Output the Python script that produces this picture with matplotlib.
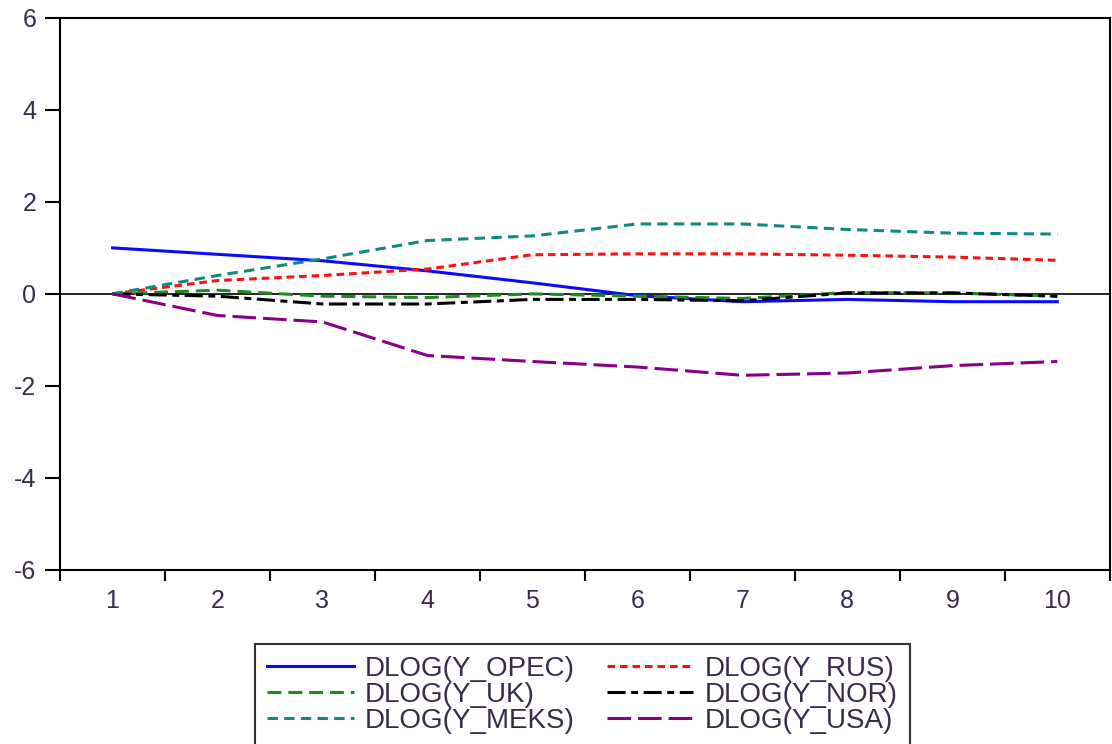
import matplotlib
matplotlib.use("Agg")
import matplotlib.pyplot as plt

plt.rcParams['font.family'] = ['Liberation Sans', 'DejaVu Sans']
plt.rcParams['lines.scale_dashes'] = False

periods = [1, 2, 3, 4, 5, 6, 7, 8, 9, 10]
y_opec = [1.00, 0.86, 0.72, 0.50, 0.24, -0.04, -0.17, -0.12, -0.17, -0.17]
y_rus = [0.00, 0.29, 0.40, 0.54, 0.85, 0.87, 0.87, 0.84, 0.80, 0.73]
y_uk = [0.00, 0.08, -0.05, -0.08, 0.00, -0.05, -0.10, 0.03, 0.02, -0.05]
y_nor = [0.00, -0.05, -0.22, -0.22, -0.12, -0.12, -0.15, 0.02, 0.02, -0.05]
y_meks = [0.00, 0.40, 0.76, 1.16, 1.26, 1.52, 1.52, 1.40, 1.32, 1.30]
y_usa = [0.00, -0.47, -0.61, -1.34, -1.47, -1.59, -1.77, -1.72, -1.56, -1.47]
labels = ['DLOG(Y_OPEC)', 'DLOG(Y_RUS)', 'DLOG(Y_UK)',
          'DLOG(Y_NOR)', 'DLOG(Y_MEKS)', 'DLOG(Y_USA)']
yticks = [-6, -4, -2, 0, 2, 4, 6]

fig = plt.figure(figsize=(11.12, 7.44), dpi=100)
ax = fig.add_axes([0.054, 0.234, 0.944, 0.742])

tick_color = '#3a2c48'
lw = 2.2
ax.axhline(0, color='black', lw=1.2, zorder=1)
series = [
    (y_opec, '#0a0aff', None),
    (y_rus, '#ff1010', (0, (5.5, 3.5))),
    (y_uk, '#1f8a1f', (0, (10, 5))),
    (y_nor, '#000000', (0, (13, 4, 5, 4))),
    (y_meks, '#108a80', (0, (7.5, 4.5))),
    (y_usa, '#880088', (0, (17, 5))),
]
handles = []
for (vals, col, ls), lab in zip(series, labels):
    if ls is None:
        h, = ax.plot(periods, vals, color=col, lw=lw, label=lab, zorder=2)
    else:
        h, = ax.plot(periods, vals, color=col, lw=lw, linestyle=ls, label=lab, zorder=2)
    handles.append(h)

ax.set_xlim(0.5, 10.5)
ax.set_ylim(-6, 6)
ax.set_yticks(yticks)
ax.set_yticklabels([str(v) for v in yticks])
ax.set_xticks(periods)
ax.set_xticklabels([str(p) for p in periods])
ax.set_xticks([p - 0.5 for p in periods] + [10.5], minor=True)
ax.tick_params(axis='x', which='major', length=0, pad=14, labelsize=18, labelcolor=tick_color)
ax.tick_params(axis='x', which='minor', length=8, width=1.5, direction='out', color='black')
ax.tick_params(axis='y', which='major', length=11, width=1.5, direction='out', pad=6,
               labelsize=18, labelcolor=tick_color)
for sp in ax.spines.values():
    sp.set_linewidth(1.5)
    sp.set_color('black')

# legend order: row-wise in two columns
order = [0, 2, 4, 1, 3, 5]
leg = fig.legend([handles[i] for i in order], [labels[i] for i in order],
                 loc='upper center', bbox_to_anchor=(0.524, 0.135), ncol=2,
                 fontsize=20, frameon=True, fancybox=False, edgecolor='black',
                 handlelength=3.1, handletextpad=0.42, columnspacing=1.15,
                 labelspacing=0.0, borderpad=0.45, borderaxespad=0)
leg.get_frame().set_linewidth(1.5)
for t in leg.get_texts():
    t.set_color(tick_color)

fig.savefig('out.png', dpi=100)
